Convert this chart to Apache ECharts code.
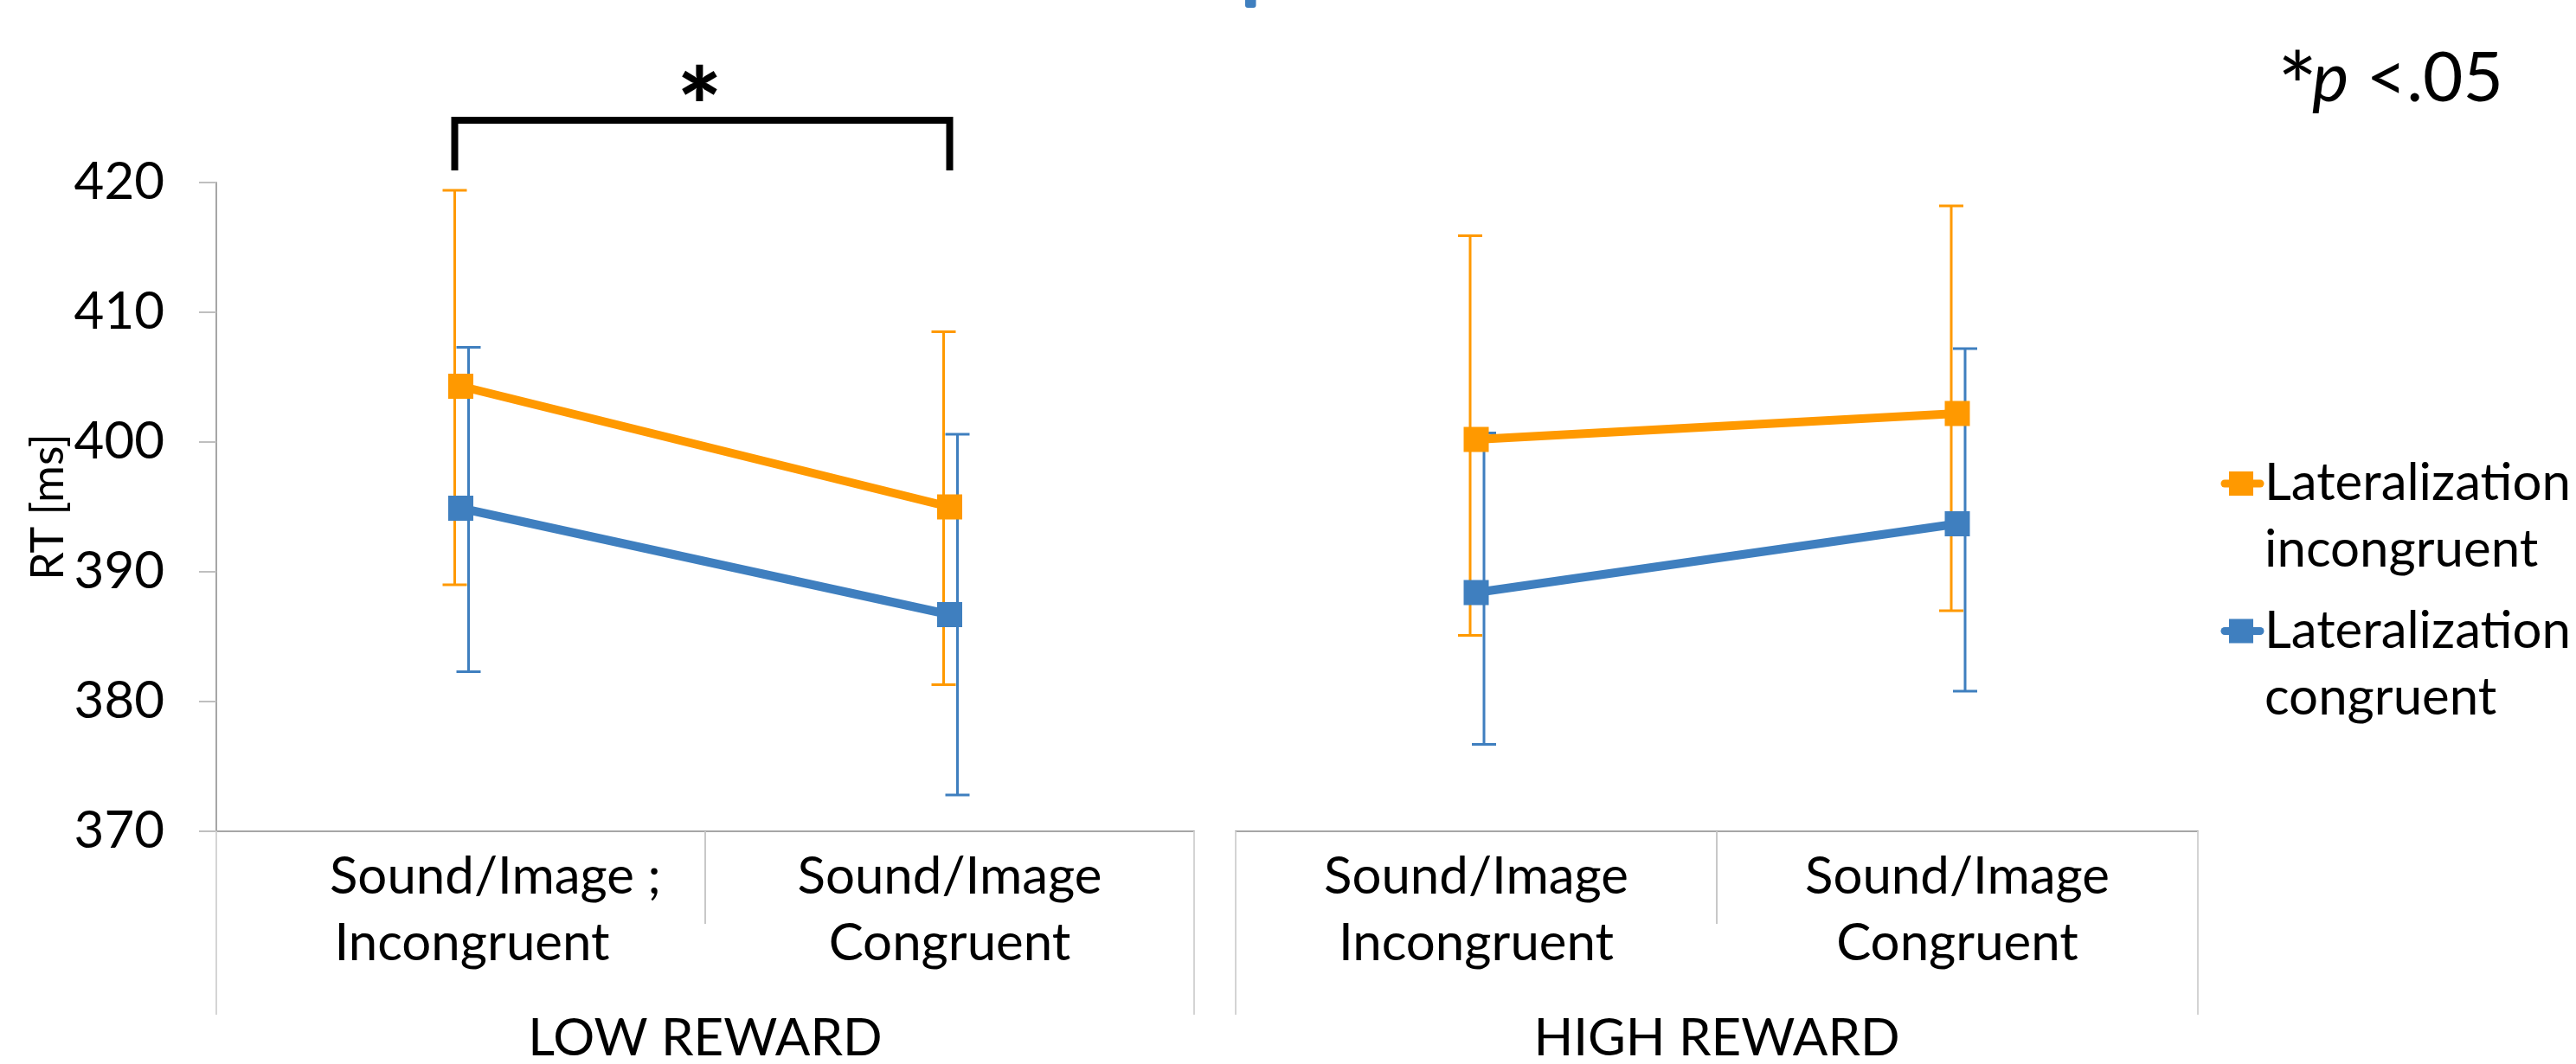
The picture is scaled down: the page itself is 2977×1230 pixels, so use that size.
<!DOCTYPE html>
<html>
<head>
<meta charset="utf-8">
<script src="https://cdn.jsdelivr.net/npm/echarts@6/dist/echarts.min.js"></script>
<style>
  html, body { margin: 0; padding: 0; background: #ffffff; }
  #chart { width: 2977px; height: 1230px; }
</style>
</head>
<body>
<div id="chart"></div>
<script>
// ---------- data ----------
const groupNames = ['LOW REWARD', 'HIGH REWARD'];
const lowRewardCategories = ['Sound/Image ;\nIncongruent', 'Sound/Image\nCongruent'];
const highRewardCategories = ['Sound/Image\nIncongruent', 'Sound/Image\nCongruent'];
const seriesNames = ['Lateralization\nincongruent', 'Lateralization\ncongruent'];
const yAxisTitle = 'RT [ms]';
const yTicks = [370, 380, 390, 400, 410, 420];

// Lateralization incongruent (orange)
const incongruentLowMean  = [404.3, 395.0];
const incongruentLowUpper = [419.4, 408.5];
const incongruentLowLower = [389.0, 381.3];
const incongruentHighMean  = [400.2, 402.2];
const incongruentHighUpper = [415.9, 418.2];
const incongruentHighLower = [385.1, 387.0];

// Lateralization congruent (blue)
const congruentLowMean  = [394.9, 386.7];
const congruentLowUpper = [407.3, 400.6];
const congruentLowLower = [382.3, 372.8];
const congruentHighMean  = [388.4, 393.7];
const congruentHighUpper = [400.7, 407.2];
const congruentHighLower = [376.7, 380.8];

const colors = ['#FF9900', '#3F7FBF'];
const FONT = 'Lato';

// ---------- helpers ----------
function errData(lower, upper) {
  return lower.map((lo, i) => [i, lo, upper[i]]);
}
function errorRender(dx) {
  return function (params, api) {
    const x = api.value(0);
    const top = api.coord([x, api.value(2)]);
    const bot = api.coord([x, api.value(1)]);
    const cx = top[0] + dx;
    const half = 14;
    const style = { stroke: api.visual('color'), lineWidth: 3 };
    return {
      type: 'group',
      children: [
        { type: 'line', shape: { x1: cx, y1: top[1], x2: cx, y2: bot[1] }, style: style },
        { type: 'line', shape: { x1: cx - half, y1: top[1], x2: cx + half, y2: top[1] }, style: style },
        { type: 'line', shape: { x1: cx - half, y1: bot[1], x2: cx + half, y2: bot[1] }, style: style }
      ]
    };
  };
}
function lineSeries(name, data, color, xi, yi) {
  return {
    type: 'line', name: name, data: data, xAxisIndex: xi, yAxisIndex: yi,
    symbol: 'rect', symbolSize: 29, z: 5,
    itemStyle: { color: color },
    lineStyle: { color: color, width: 10 },
    emphasis: { disabled: true }
  };
}
function errSeries(name, data, color, xi, yi, dx) {
  return {
    type: 'custom', name: name, data: data, xAxisIndex: xi, yAxisIndex: yi,
    encode: { x: 0, y: [1, 2] }, z: 1, clip: false,
    itemStyle: { color: color },
    renderItem: errorRender(dx)
  };
}
const labelStyle = { color: '#000', fontFamily: FONT, fontSize: 60, lineHeight: 77 };
function catLabelFormatter(value, index) {
  const lines = value.split('\n');
  // first low-reward label sits slightly right of centre in the reference
  if (value.indexOf(';') >= 0) {
    return '{s|' + lines[0] + '}\n{t|' + lines[1] + '}';
  }
  return '{n|' + lines[0] + '}\n{n|' + lines[1] + '}';
}
const catRich = {
  n: { fontFamily: FONT, fontSize: 60, lineHeight: 77, color: '#000' },
  s: { fontFamily: FONT, fontSize: 60, lineHeight: 77, color: '#000', padding: [0, 0, 0, 80] },
  t: { fontFamily: FONT, fontSize: 60, lineHeight: 77, color: '#000', padding: [0, 0, 0, 26] }
};
function level1Axis(gridIndex, cats) {
  return {
    type: 'category', gridIndex: gridIndex, data: cats, position: 'bottom', boundaryGap: true,
    axisLine: { show: true, lineStyle: { color: '#A6A6A6', width: 2 } },
    axisTick: { show: true, length: 107, lineStyle: { color: '#C8C8C8', width: 2 } },
    axisLabel: Object.assign({ interval: 0, margin: 14, formatter: catLabelFormatter, rich: catRich }, labelStyle),
    splitLine: { show: false }
  };
}
function level2Axis(gridIndex, name) {
  return {
    type: 'category', gridIndex: gridIndex, data: [name], position: 'bottom', boundaryGap: true,
    axisLine: { show: false },
    axisTick: { show: true, length: 212, lineStyle: { color: '#D4D4D4', width: 2 } },
    axisLabel: Object.assign({ interval: 0, margin: 201 }, labelStyle),
    splitLine: { show: false }
  };
}
function yAxis(gridIndex, visible) {
  return {
    type: 'value', gridIndex: gridIndex, min: yTicks[0], max: yTicks[yTicks.length - 1], interval: 10,
    show: visible,
    axisLine: { show: true, lineStyle: { color: '#A6A6A6', width: 2 } },
    axisTick: { show: true, inside: false, length: 20, lineStyle: { color: '#BFBFBF', width: 2 } },
    axisLabel: { color: '#000', fontFamily: FONT, fontSize: 60, margin: 60 },
    splitLine: { show: false }
  };
}

const chart = echarts.init(document.getElementById('chart'), null, { renderer: 'canvas' });

const option = {
  animation: false,
  backgroundColor: '#ffffff',
  grid: [
    { left: 250, top: 211, width: 1130, height: 750, containLabel: false, outerBoundsMode: 'none' },
    { left: 1428, top: 211, width: 1112, height: 750, containLabel: false, outerBoundsMode: 'none' }
  ],
  xAxis: [
    level1Axis(0, lowRewardCategories),
    level2Axis(0, groupNames[0]),
    level1Axis(1, highRewardCategories),
    level2Axis(1, groupNames[1])
  ],
  yAxis: [yAxis(0, true), yAxis(1, false)],
  series: [
    errSeries(seriesNames[0], errData(incongruentLowLower, incongruentLowUpper), colors[0], 0, 0, -7),
    errSeries(seriesNames[1], errData(congruentLowLower, congruentLowUpper), colors[1], 0, 0, 9),
    errSeries(seriesNames[0], errData(incongruentHighLower, incongruentHighUpper), colors[0], 2, 1, -7),
    errSeries(seriesNames[1], errData(congruentHighLower, congruentHighUpper), colors[1], 2, 1, 9),
    lineSeries(seriesNames[0], incongruentLowMean, colors[0], 0, 0),
    lineSeries(seriesNames[1], congruentLowMean, colors[1], 0, 0),
    lineSeries(seriesNames[0], incongruentHighMean, colors[0], 2, 1),
    lineSeries(seriesNames[1], congruentHighMean, colors[1], 2, 1)
  ]
};
chart.setOption(option);

// ---------- annotations ----------
const xl = chart.convertToPixel({ xAxisIndex: 0 }, lowRewardCategories[0]) - 7;
const xr = chart.convertToPixel({ xAxisIndex: 0 }, lowRewardCategories[1]);
const yMid = chart.convertToPixel({ yAxisIndex: 0 }, (yTicks[0] + yTicks[yTicks.length - 1]) / 2);
const graphics = [];

// y axis title (rotated)
graphics.push({
  type: 'text', silent: true, x: 56, y: yMid, rotation: Math.PI / 2,
  style: { text: yAxisTitle, x: 0, y: 0, fill: '#000', font: '52px ' + FONT,
           align: 'center', verticalAlign: 'middle', textAlign: 'center', textVerticalAlign: 'middle' }
});

// significance bracket
graphics.push({
  type: 'polyline', silent: true,
  shape: { points: [[xl, 197], [xl, 139], [xr, 139], [xr, 197]] },
  style: { stroke: '#000', lineWidth: 8, fill: null, lineJoin: 'miter', lineCap: 'butt' }
});
graphics.push({
  type: 'text', silent: true,
  style: { text: '*', x: (xl + xr) / 2 - 3, y: 129, fill: '#000', font: '900 122px ' + FONT,
           align: 'center', verticalAlign: 'middle', textAlign: 'center', textVerticalAlign: 'middle' }
});

// p-value note
graphics.push({
  type: 'text', silent: true,
  style: { text: '*', x: 2655, y: 106, fill: '#000', font: '110px ' + FONT,
           align: 'center', verticalAlign: 'middle', textAlign: 'center', textVerticalAlign: 'middle' }
});
graphics.push({
  type: 'text', silent: true,
  style: {
    text: '{b|p}{a| <.05}', x: 2672, y: 91,
    align: 'left', verticalAlign: 'middle', textAlign: 'left', textVerticalAlign: 'middle',
    rich: {
      a: { fontFamily: FONT, fontSize: 80, fill: '#000', color: '#000' },
      b: { fontFamily: FONT, fontSize: 80, fontStyle: 'italic', fill: '#000', color: '#000' }
    }
  }
});

// small cut-off title mark at top edge
graphics.push({
  type: 'rect', silent: true,
  shape: { x: 1439, y: -4, width: 12.5, height: 13, r: 3 },
  style: { fill: colors[1] }
});

// legend
seriesNames.forEach(function (name, i) {
  const cy = 559 + i * 170.5;
  graphics.push({
    type: 'line', silent: true,
    shape: { x1: 2571, y1: cy, x2: 2612, y2: cy },
    style: { stroke: colors[i], lineWidth: 9, lineCap: 'round' }
  });
  graphics.push({
    type: 'rect', silent: true,
    shape: { x: 2576, y: cy - 14, width: 28, height: 28 },
    style: { fill: colors[i] }
  });
  graphics.push({
    type: 'text', silent: true,
    style: {
      text: name, x: 2617, y: cy - 38.5, fill: '#000',
      fontFamily: FONT, fontSize: 60, lineHeight: 77,
      align: 'left', verticalAlign: 'top', textAlign: 'left', textVerticalAlign: 'top'
    }
  });
});

chart.setOption({ graphic: graphics });
</script>
</body>
</html>
